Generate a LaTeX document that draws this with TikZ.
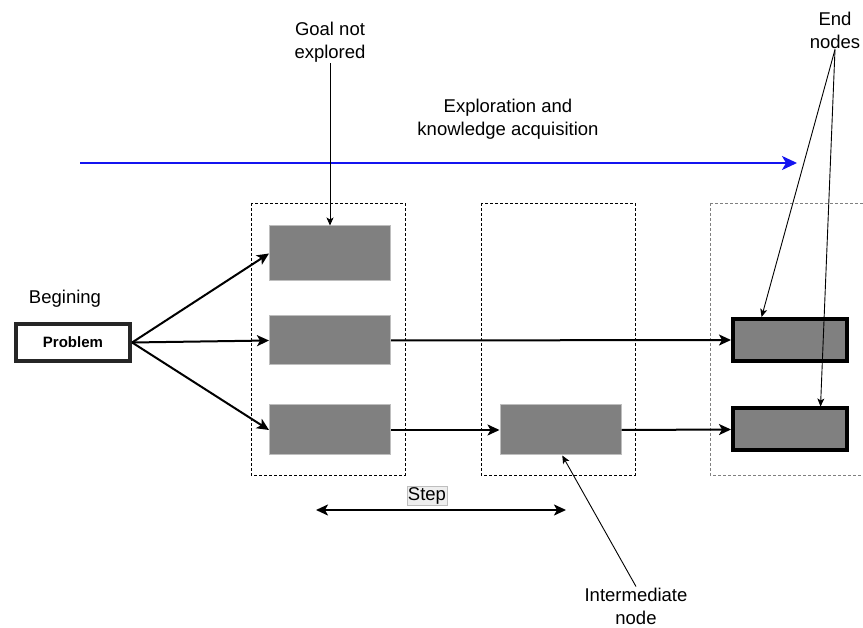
\documentclass[tikz,border=0pt]{standalone}
\usepackage{fontspec}
\setmainfont{Liberation Sans}
\usetikzlibrary{arrows.meta, positioning}

\definecolor{boxgray}{RGB}{128,128,128}
\definecolor{boxedge}{RGB}{190,190,190}
\definecolor{flowblue}{RGB}{20,20,240}
\definecolor{stepgray}{RGB}{238,238,238}

\tikzset{
  gbox/.style={rectangle, fill=boxgray, draw=boxedge, line width=1pt,
               minimum width=121pt, minimum height=50pt, inner sep=0pt},
  endbox/.style={gbox, draw=black, line width=4pt,
               minimum width=114pt, minimum height=42pt},
  probbox/.style={rectangle, fill=white, draw=black!85, line width=4.2pt,
               minimum width=114pt, minimum height=37pt, inner sep=0pt,
               font=\fontsize{15}{18}\selectfont\bfseries},
  lbl/.style={align=center, inner sep=1pt, font=\fontsize{18.5}{23}\selectfont},
  group/.style={draw=black, line width=0.8pt, dash pattern=on 3pt off 2pt},
  link/.style={-{Stealth[length=12pt, width=11pt, inset=3pt]}, line width=2pt},
  pointer/.style={-{Stealth[length=8pt, width=7pt, inset=2pt]}, line width=0.9pt}
}

\begin{document}
\begin{tikzpicture}[x=1pt, y=-1pt]
  \useasboundingbox (0,0) rectangle (863,628);

  % columns
  \draw[group] (251,203) rectangle (405,475);
  \draw[group] (481,203) rectangle (635,475);
  \draw[group, draw=black!50] (710,203) -- (863,203)
                          (710,203) -- (710,475) -- (863,475);

  % boxes
  \node[gbox, minimum height=55pt] (goal)  at (330,253.5) {};
  \node[gbox, minimum height=49pt] (mid)   at (330,340.5) {};
  \node[gbox]                      (low)   at (330,430)   {};
  \node[gbox]                      (inter) at (560.5,430) {};
  \node[endbox]                    (endA)  at (790,340)   {};
  \node[endbox]                    (endB)  at (790,429.5) {};
  \node[probbox]                   (prob)  at (73,342.5)  {Problem};

  % texts
  \node[lbl] (goaltxt)  at (330,42)  {Goal not\\explored};
  \node[lbl] (explore)  at (508,119) {Exploration and\\knowledge acquisition};
  \node[lbl] (endtxt)   at (835,30)  {End\\nodes};
  \node[lbl] (begin)    at (65,299)  {Begining};
  \node[lbl] (intertxt) at (636,606) {Intermediate\\node};
  \node[lbl, fill=stepgray, draw=stepgray!80!black, line width=0.3pt]
             (steptxt)  at (427,496) {Step};

  \coordinate (flowL) at (80,163);
  \coordinate (flowR) at (797,163);
  \coordinate (stepL) at (316,510);
  \coordinate (stepR) at (566,510);

  % connectors
  \draw[link] (prob.east) -- (goal.west);
  \draw[link] (prob.east) -- (mid.west);
  \draw[link] (prob.east) -- (low.west);
  \draw[link] (mid.east)  -- (endA.west);
  \draw[link] (low.east)  -- (inter.west);
  \draw[link] (inter.east) -- (endB.west);

  \draw[-{Stealth[length=15pt, width=14pt, inset=4pt]}, draw=flowblue, fill=flowblue,
        line width=2pt] (flowL) -- (flowR);
  \draw[{Stealth[length=12pt, width=11pt, inset=3pt]}-{Stealth[length=12pt, width=11pt, inset=3pt]},
        line width=2pt] (stepL) -- (stepR);

  \draw[pointer] (goaltxt) -- (goal);
  \draw[pointer] (endtxt.south) -- (endA.141);
  \draw[pointer] (endtxt.south) -- (endB.37);
  \draw[pointer] (intertxt.north) -- (inter.274);
\end{tikzpicture}
\end{document}
